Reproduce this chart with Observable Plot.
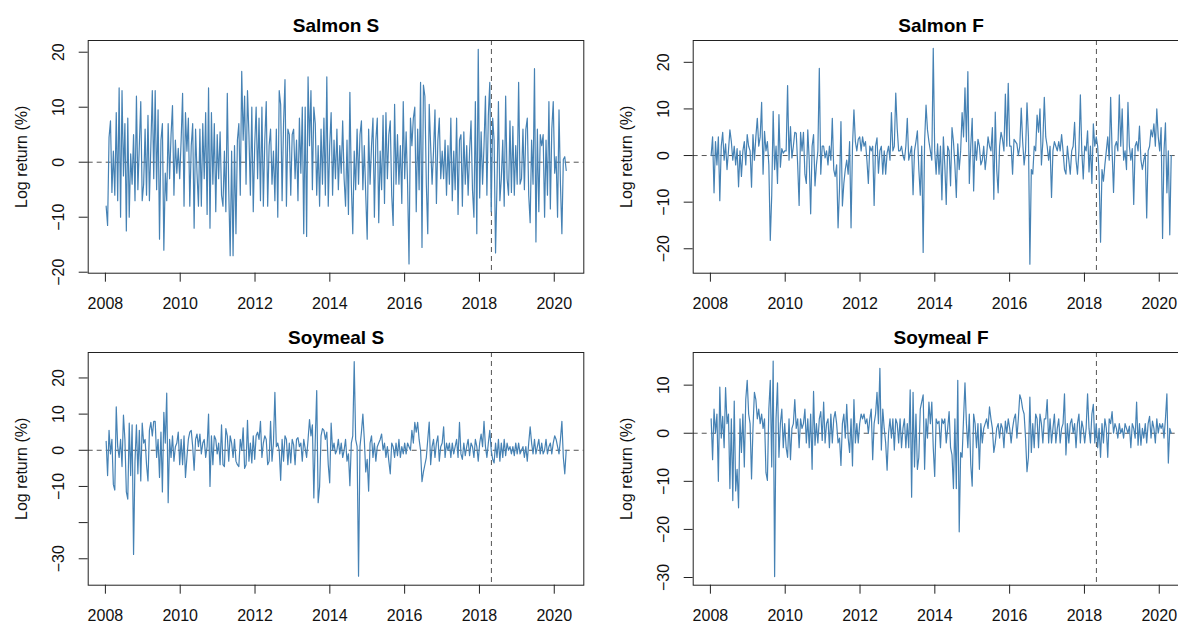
<!DOCTYPE html>
<html><head><meta charset="utf-8">
<script src="https://cdn.jsdelivr.net/npm/d3@7"></script>
<script src="https://cdn.jsdelivr.net/npm/@observablehq/plot@0.6"></script>
<style>
html,body{margin:0;padding:0;background:#fff;overflow:hidden;width:1178px;height:624px;}
#root{position:relative;width:1178px;height:624px;overflow:hidden;background:#fff;}
.panel{position:absolute;width:600px;height:312px;}
.panel svg{max-width:none !important;display:block;}
</style></head><body><div id="root"></div>
<script>
// Weekly-ish log returns (%), first obs ~2008.02, last ~2020.32
const startYear = 2008.02, endYear = 2020.32;
const breakYear = 2018.32;
const xTicks = [2008, 2010, 2012, 2014, 2016, 2018, 2020];

const salmonS = [
-8,-11.5,4.5,7.5,-5.5,2,-6,9,-7,13.5,-10,13,-2.5,7,-12.5,8,-10,1.5,-4,5,-7,12,-5,3,11,-7,
-4,6,-6,8.5,-7,3,13,-3,13,-5,9.5,-14,4,7,-16,-2,-7,7,-3,5,10.3,-6,4,-2,2.5,-3,
4,12.5,-8,9,2,8,-8,3,7,-12,6,-2,-8,6,-8,7,-3,9,-9.5,13.5,-12,9,-4,7,-9,5,
-3,5.5,-6,-8,2,-9,12.5,-5,-17,2,-17,3,-13,4,7,-6,16.5,4,12,-4,13,5,-6,10,-9,3,
10,-3,8,-7,10,-8,4,11,-8,3,6,-4,2,-7,6,-10,13,10.5,-7,7,15,-8,6,5,-6,5,
6,-3,4,-7,8,-2,10,-13,10,-13.5,15.5,3,13,-5,10,7,-6,3,-8,6,-4,8,-6,15.5,-8,3,
9,-6,4,-3,6,-5,3,-2,7.5,-3,-8,4,-9.5,12.7,-4,-13,2,-5,6,-4,5,7.5,-5,3,-6,-14,
6,-4,3,8,-10,4,8,-11,2,-5,8.5,-7.5,9,-3,5,7.5,-6,-11.5,10.5,-4,5,-4,3,-7.5,11,-3,
5.5,-4,-18.5,8,3,8,10,-9,6,-5,14.5,-15.5,14,12,-4,-13,10.5,3,-4,2,9.5,-7.5,4,8,-3,2,
-3,4,-6,3,-4,8,-7,2,-5,8,-9.5,4,5,-8,5.5,-4,3,-6,2,7.5,-5,-10,11,-13,20.5,-6.5,
5.5,-4,3,12,-6,8.5,14.5,-9,8,4,-16.5,-4,11,-7,-3,4,-8,12,-3,-6,7.5,-5.5,6.5,-6,3,-4,
14.5,-4,-3,6,-5,6,8,-6,-11,4,-4,17,-14.5,6,-9,5,3,5,-10,4,-6,11,-8.5,6,11,-2,
1,-10,9.5,-4,-13,0.5,1,-1.5
];

const salmonF = [
0,4,-8,3,-2,4,-9.7,2,5,-1,2.5,-3,1,5.5,3,-1,2,-2,1.5,-6.7,1,-4.5,1,3,-2,4.5,
2,1,-6.8,4.5,-1,4,8,2,4,11.4,-4,5.2,1,3,-2,-18.2,-8.5,9.5,-3,2,-6,8.8,-2.5,1.5,0.5,1,
1,15,-1,6.2,-0.5,2,5,4.8,-2,-10.7,5,1,5,-4,-6,5.5,-1,-12.5,2,4.5,-6.5,-2,1,18.7,-4,2,
2,-0.5,1,-2,2,-1,8,-3,-4.5,-2,-15.5,-7,7.3,-10.8,-6,-3,-1,-4,3,-15.5,2,9.8,3,1,3.5,4,
1,4,2,3,-1,-6,2,1,2,-10.7,2,3.8,-3.8,1,2,-4,1,-4,0.5,2,-1,9.2,1,2,13.4,5.8,
1,1,2,0,-1,2,8,-1,0.5,2,-8.4,1,3,5.3,-3,-8.5,2,-20.8,3,10.8,5.5,3,1,-1,23,1,
-4,2.5,-4,2,-9.5,4,-2,-10.5,2,1,-6.5,6,3,-2,-9,2.5,-3,1,9.2,4,14.5,3,18,-6,2,8,
-7.6,3,-1,3.5,2,-2,-1,2,-3,0,4,2,1,6,-9.4,9.3,-3,-8,2,5,3.5,1,13.2,2,15.5,2,
2,-4,3.5,3,2.5,0,2,10.2,3,-2,1,11.3,4,-23.3,-3,-4,2,1,8.7,5,10,-2,3,12.5,4,2,
-1,2,-9,1,3,2,1,3,1,4.5,1,-3,-4,2,-1,-4,1,2,7.1,-1,-4,1,13,1,-5,2,
1,5.3,-3.5,2,-6,6.8,2,4,2,-4,-18.6,-3,-5.5,-2,1,4,-1,12.5,1,-7.9,2,3,1,13,2,10,
-1,1,-3,11.4,2,-1,1.5,-10.5,2,3,1,6.3,-1,-3,-1,0.5,-13.4,1,2,5.5,4,6.8,2,10,4,1,
6,-17.8,1,7,-8,1,-17,0
];

const soymealS = [
2.5,-7,5.5,-1,3,-9.5,-11,12,1,-2,3,-4.5,9.7,3,-11.5,-13.5,7.5,-7,7,-28.8,-3,7,-6.5,5.5,-8.5,7.5,
2,3,-4,-8.5,5.5,7.7,4,8,8,-2,3,-7.5,5,-11.5,10.5,2,15.8,-14.5,3,-2,4,-3,1,2,5,-4,
3,-4,4,-7.5,-2,3,5,5.5,1,-5.5,3,4.5,1,4.5,-1,2,3,-2,1,10,-10,4,-4,4,3,-1,
2,-4,7,-4,-4.5,6,4,-3,4,2,-2,3,-3,-4,-4.5,3,0,6.2,-5,-4,8.3,-3,2,-3.5,4,-2.5,
4,5,3,8,-2,2,4,3,-4,-3,8,-3,2,16,1,2,0,-8.3,3,-3,4,3,-4,2,-3.5,3,
1.5,-4,3,3.5,1,2,-3,3,0.5,-2,3,8.5,4,7,-13.2,3,16.5,-14.5,-10,4,6,5.5,3,5,-4,-9,
7.5,0,2,-1,0,3,-1,2,-2,0,3,-3,-1,-9.8,2,4,24.5,3,1,-34.8,1,5,10,3,-6,-2.5,
-11.3,2,4,-2,2,-3,1,2,3,4.5,0,2,-2,1,-3,-6.5,2,1,-2,2,-1.5,3,-2,1,-1,2,
-1,2,1,0,5.5,2,7.7,5,7.7,3,0,-8.7,-6,-4,-2,3,7.8,-4,1,3,-2,2,4,-3,1,2,
6.5,-2,2,0,2,-2,2,-1,1,3,-2,7.7,-1,-2.5,2,-1.5,1,3,-1.5,2,1,-2,3,1,-3,2,
4.5,1,8,1,-2,2,5.5,0,-2.5,-3.5,2,-2,3,-3,2,-2,3,-1.5,2,0,1,-1,1,-1.5,2,-1,
2,-1,0,1,-2,1,-3,2,6.5,2,-1,3,-1,1,3,-1,2,-1,0,3,-1,1,2,-1,2,4,
3,1,-1,3,8,-2,-6.5,0
];

const soymealF = [
3,-5.5,5,0,4,-10,9.6,-1,3.5,-3,9.5,2,4,-11.5,3,-14,6.7,-12,-7.5,-15.5,3,-4,4,-7,7,11,
4,2,-9.5,1,8.5,7,3,5,2,4,1,3,-8.2,-9.8,5,11,-7,15,-29.8,3,10.5,-5,2,5,-3,2,
-3,-5,3,-5.5,1,2,7,1,3,-3,3,1,2,5,-2,3,-3,4,-7.5,8.7,-2.5,2,-2,3,4.5,-1.5,
6.5,-2,2,3,-3,4,-2,3,4.5,2,-2,-1,-6.7,2,4,-1,6,-1,-4,3,-6.8,7,-2,2,-2,2,
4,3,4,2,3,0,3,5,-5.5,2,4,8.5,2,13.5,-3.5,5,1,-2,-7.7,0,3,-1,3,-3.5,3,2,
-2,3,-3,1,3,-3,2,-3,9,-13.3,8.5,-7,4,-7.5,-5,5,6.5,8,-7.5,3,-1,6.5,2,6.5,-3,-9,
3,2,2.5,-3,3,2,3,-2,1,4.5,-3,-4.5,-11.5,3,-11.5,11,-20.5,-4,-5,3,10.5,2,-3,4,-6.5,-11,
4,2,-3,2,-7.5,2,-2,1,2,3,1,5.5,3,1,-4,-2,1,2,-1,2,1,-3,2.5,0,3,1,
-2,1,3,4,-1,3,8,7,5,4,-1,-8,-5,7.5,-4,2,-3,4,3,-3,4,2,-2,3,3,7,
-2,3,-2,1,4,-2,1,3,-2,1,2,8.2,-4.5,2,-2,2,3,0,2,-3,2,4,-2,2.5,1,-2,
1,8.2,1,-2,4,6,-2,2,-3,1,-5,2,-2,3,1,-5,3,2,4.5,0,2,1,-1,2,0,1,
-1,2,1,0,1.5,-3,2,1,-1,6.5,-2.5,2,-2.5,1,-1,2,-2,2,3.5,-1,2.5,1,-2,3,0,2,
1,2,-1,3,8.2,-6.2,1,0
];

const titles = ["Salmon S", "Salmon F", "Soymeal S", "Soymeal F"];
const yDomains = [[-20.18, 22.13], [-25.24, 24.68], [-37.31, 27.04], [-31.6, 16.79]];
const yTicksList = [[-20,-10,0,10,20], [-20,-10,0,10,20], [-30,-20,-10,0,10,20], [-30,-20,-10,0,10]];
const yLabelsList = [[-20,-10,0,10,20], [-20,-10,0,10,20], [-30,-10,0,10,20], [-30,-20,-10,0,10]];
const seriesList = [salmonS, salmonF, soymealS, soymealF];
const positions = [[0, 0], [604.6, 0], [0, 311.7], [604.6, 311.7]];

const FONT = "'Liberation Sans', Arial, Helvetica, sans-serif";
const root = document.getElementById("root");
const fmt = d => (d < 0 ? "\u2212" + Math.abs(d) : String(d));

seriesList.forEach((vals, k) => {
  const n = vals.length;
  const step = (endYear - startYear) / (n - 1);
  const data = vals.map((v, i) => ({x: startYear + i * step, y: v}));
  const svg = Plot.plot({
    width: 600,
    height: 312,
    marginLeft: 87.7,
    marginRight: 16.7,
    marginTop: 40,
    marginBottom: 39.3,
    style: {fontFamily: FONT, fontSize: "16px", background: "white", overflow: "visible", color: "#111", maxWidth: "none"},
    x: {domain: [2007.54, 2020.79], label: null},
    y: {domain: yDomains[k], label: null},
    marks: [
      Plot.ruleY([0], {stroke: "#555", strokeDasharray: "5,4", strokeWidth: 1}),
      Plot.ruleX([breakYear], {stroke: "#555", strokeDasharray: "5,4", strokeWidth: 1}),
      Plot.line(data, {x: "x", y: "y", stroke: "#4682b4", strokeWidth: 1.2}),
      Plot.frame({stroke: "#222", strokeWidth: 1}),
      Plot.axisX({ticks: xTicks, tickSize: 9, tickPadding: 15, tickFormat: d => String(d), fontSize: 16, stroke: "#222", fill: "#111", label: null}),
      Plot.axisY({ticks: yTicksList[k], tickSize: 9, tickFormat: () => "", stroke: "#222", label: null}),
      Plot.text(yLabelsList[k], {y: d => d, text: fmt, frameAnchor: "left", dx: -24, rotate: -90, textAnchor: "middle", lineAnchor: "bottom", fontSize: 16, fill: "#111"}),
      Plot.text(["Log return (%)"], {text: d => d, frameAnchor: "left", dx: -61, rotate: -90, textAnchor: "middle", lineAnchor: "bottom", fontSize: 16, fill: "#111"}),
      Plot.text([titles[k]], {text: d => d, frameAnchor: "top", dy: -8.3, lineAnchor: "bottom", fontSize: 19, fontWeight: "bold", fill: "#000"})
    ]
  });
  svg.style.maxWidth = "none";
  svg.setAttribute("width", 600);
  svg.setAttribute("height", 312);
  const div = document.createElement("div");
  div.className = "panel";
  div.style.left = positions[k][0] + "px";
  div.style.top = positions[k][1] + "px";
  div.appendChild(svg);
  root.appendChild(div);
});
</script>
</body></html>
